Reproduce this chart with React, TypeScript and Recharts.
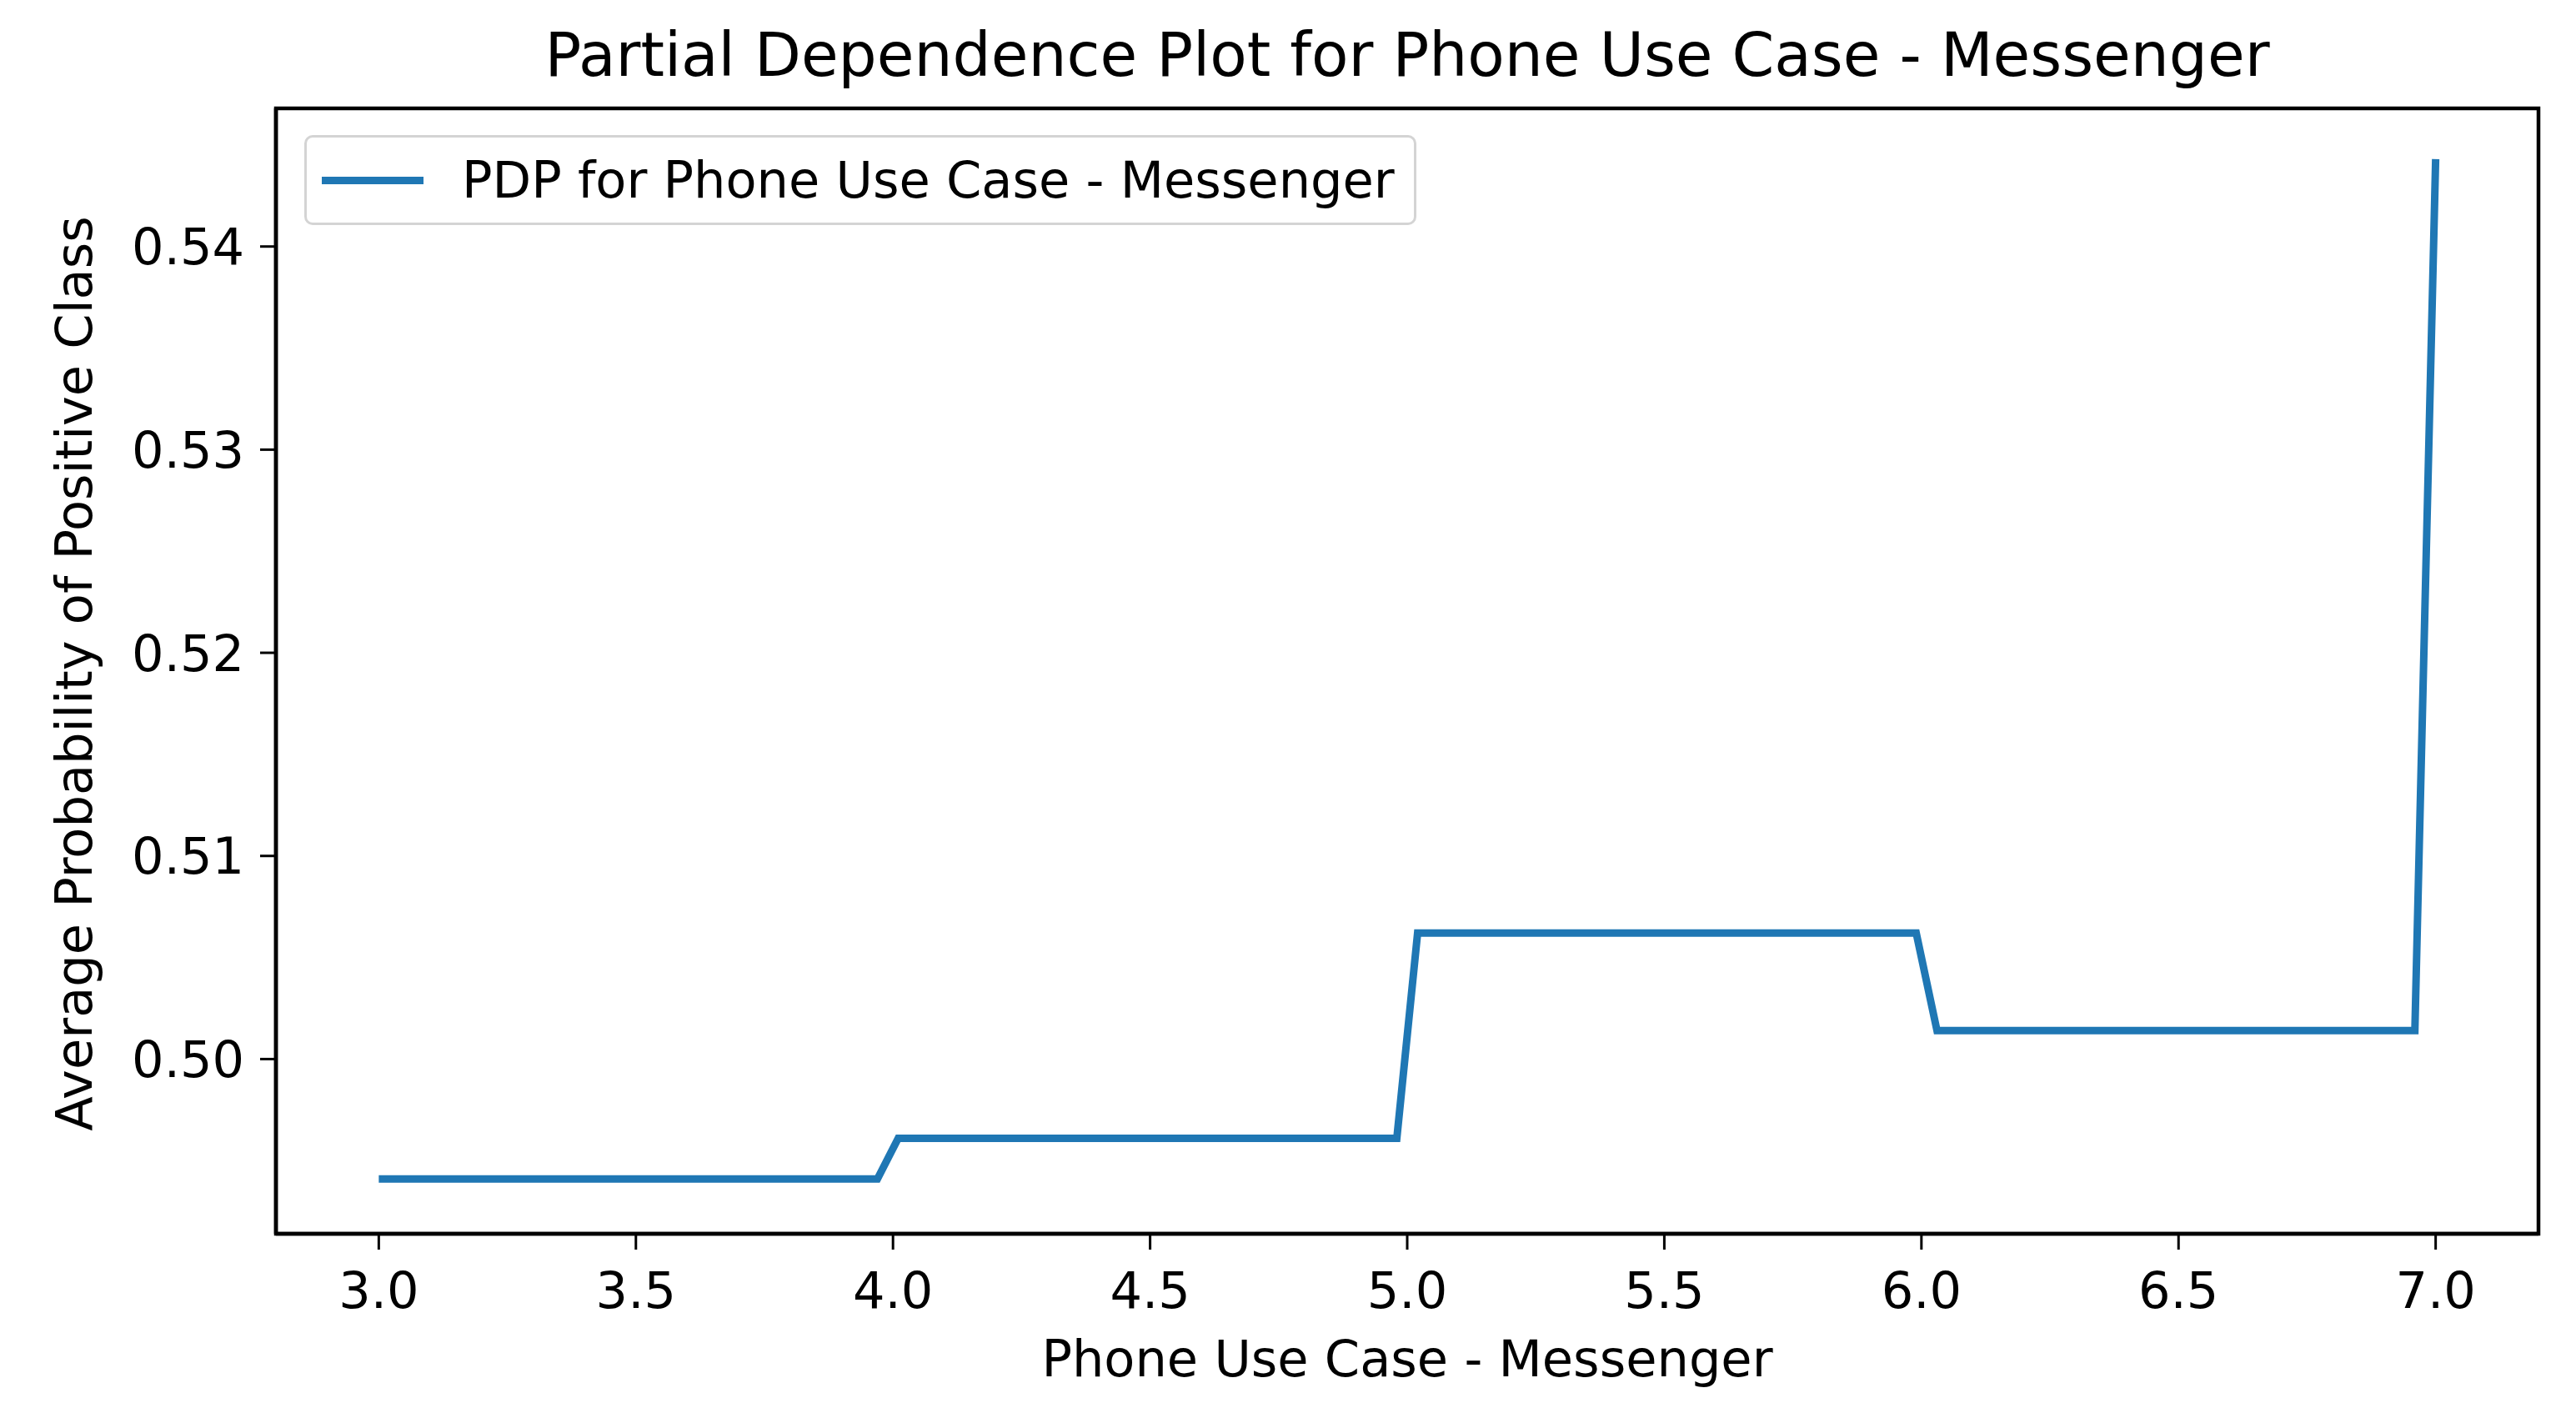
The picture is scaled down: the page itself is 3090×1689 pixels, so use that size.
import { LineChart, Line, XAxis, YAxis, ReferenceArea } from 'recharts';

// step points of the partial dependence curve (grid breakpoints)
const phoneUseCase = [3.0, 3.9697, 4.0101, 4.9798, 5.0202, 5.9899, 6.0303, 6.9596, 7.0];
const avgProbability = [0.4941, 0.4941, 0.4961, 0.4961, 0.5062, 0.5062, 0.5014, 0.5014, 0.5443];

const xTicks = [3.0, 3.5, 4.0, 4.5, 5.0, 5.5, 6.0, 6.5, 7.0];
const yTicks = [0.5, 0.51, 0.52, 0.53, 0.54];

const seriesName = 'PDP for Phone Use Case - Messenger';
const title = 'Partial Dependence Plot for Phone Use Case - Messenger';
const xLabel = 'Phone Use Case - Messenger';
const yLabel = 'Average Probability of Positive Class';

const data = phoneUseCase.map((x, i) => ({ x, pdp: avgProbability[i] }));

const FONT = '"DejaVu Sans", sans-serif';
const W = 3090;
const H = 1689;
const TICK_FS = 60.6;
const TITLE_FS = 72.7;
const xDomain: [number, number] = [2.8, 7.2];
const yDomain: [number, number] = [0.4914, 0.5468];

const LegendBox = () => (
  <div
    style={{
      position: 'absolute',
      left: 365,
      top: 162,
      width: 1334,
      height: 108,
      boxSizing: 'border-box',
      border: '3px solid #d4d4d4',
      borderRadius: 10,
      background: 'rgba(255,255,255,0.8)',
      display: 'flex',
      alignItems: 'center',
      fontFamily: FONT,
      fontSize: TICK_FS,
      color: '#000',
    }}
  >
    <div style={{ width: 122, height: 9, background: '#1f77b4', marginLeft: 18, marginRight: 46 }} />
    <span style={{ whiteSpace: 'nowrap' }}>{seriesName}</span>
  </div>
);

export default function App() {
  return (
    <div style={{ position: 'absolute', left: 0, top: 0, width: W, height: H, background: '#fff' }}>
      <div
        style={{
          position: 'absolute', left: 331, width: 2714, top: 30, textAlign: 'center',
          fontFamily: FONT, fontSize: TITLE_FS, lineHeight: 1, color: '#000', whiteSpace: 'nowrap',
        }}
      >
        {title}
      </div>
      <div
        style={{
          position: 'absolute', left: 331, width: 2714, top: 1600, textAlign: 'center',
          fontFamily: FONT, fontSize: TICK_FS, lineHeight: 1, color: '#000', whiteSpace: 'nowrap',
        }}
      >
        {xLabel}
      </div>
      <div
        style={{
          position: 'absolute', left: 89, top: 808, transform: 'translate(-50%, -50%) rotate(-90deg)',
          fontFamily: FONT, fontSize: TICK_FS, lineHeight: 1, color: '#000', whiteSpace: 'nowrap',
        }}
      >
        {yLabel}
      </div>
      <LineChart
        width={W}
        height={H}
        data={data}
        margin={{ top: 130, right: 45, bottom: 109, left: 131 }}
        style={{ position: 'absolute', left: 0, top: 0 }}
      >
        <XAxis
          dataKey="x"
          type="number"
          domain={xDomain}
          ticks={xTicks}
          allowDataOverflow
          height={100}
          tickSize={19}
          tickMargin={27}
          tickFormatter={(v: number) => v.toFixed(1)}
          tick={{ fill: '#000', fontSize: TICK_FS, fontFamily: FONT }}
          axisLine={{ stroke: '#000', strokeWidth: 4.5 }}
          tickLine={{ stroke: '#000', strokeWidth: 3 }}
        />
        <YAxis
          type="number"
          domain={yDomain}
          ticks={yTicks}
          allowDataOverflow
          width={200}
          tickSize={19}
          tickMargin={19}
          tickFormatter={(v: number) => v.toFixed(2)}
          tick={{ fill: '#000', fontSize: TICK_FS, fontFamily: FONT }}
          axisLine={{ stroke: '#000', strokeWidth: 4.5 }}
          tickLine={{ stroke: '#000', strokeWidth: 3 }}
        />
        <ReferenceArea
          x1={xDomain[0]}
          x2={xDomain[1]}
          y1={yDomain[0]}
          y2={yDomain[1]}
          fill="none"
          stroke="#000"
          strokeWidth={4.5}
          ifOverflow="visible"
        />
        <Line
          type="linear"
          dataKey="pdp"
          name={seriesName}
          stroke="#1f77b4"
          strokeWidth={9}
          dot={false}
          activeDot={false}
          isAnimationActive={false}
        />
      </LineChart>
      <LegendBox />
    </div>
  );
}
